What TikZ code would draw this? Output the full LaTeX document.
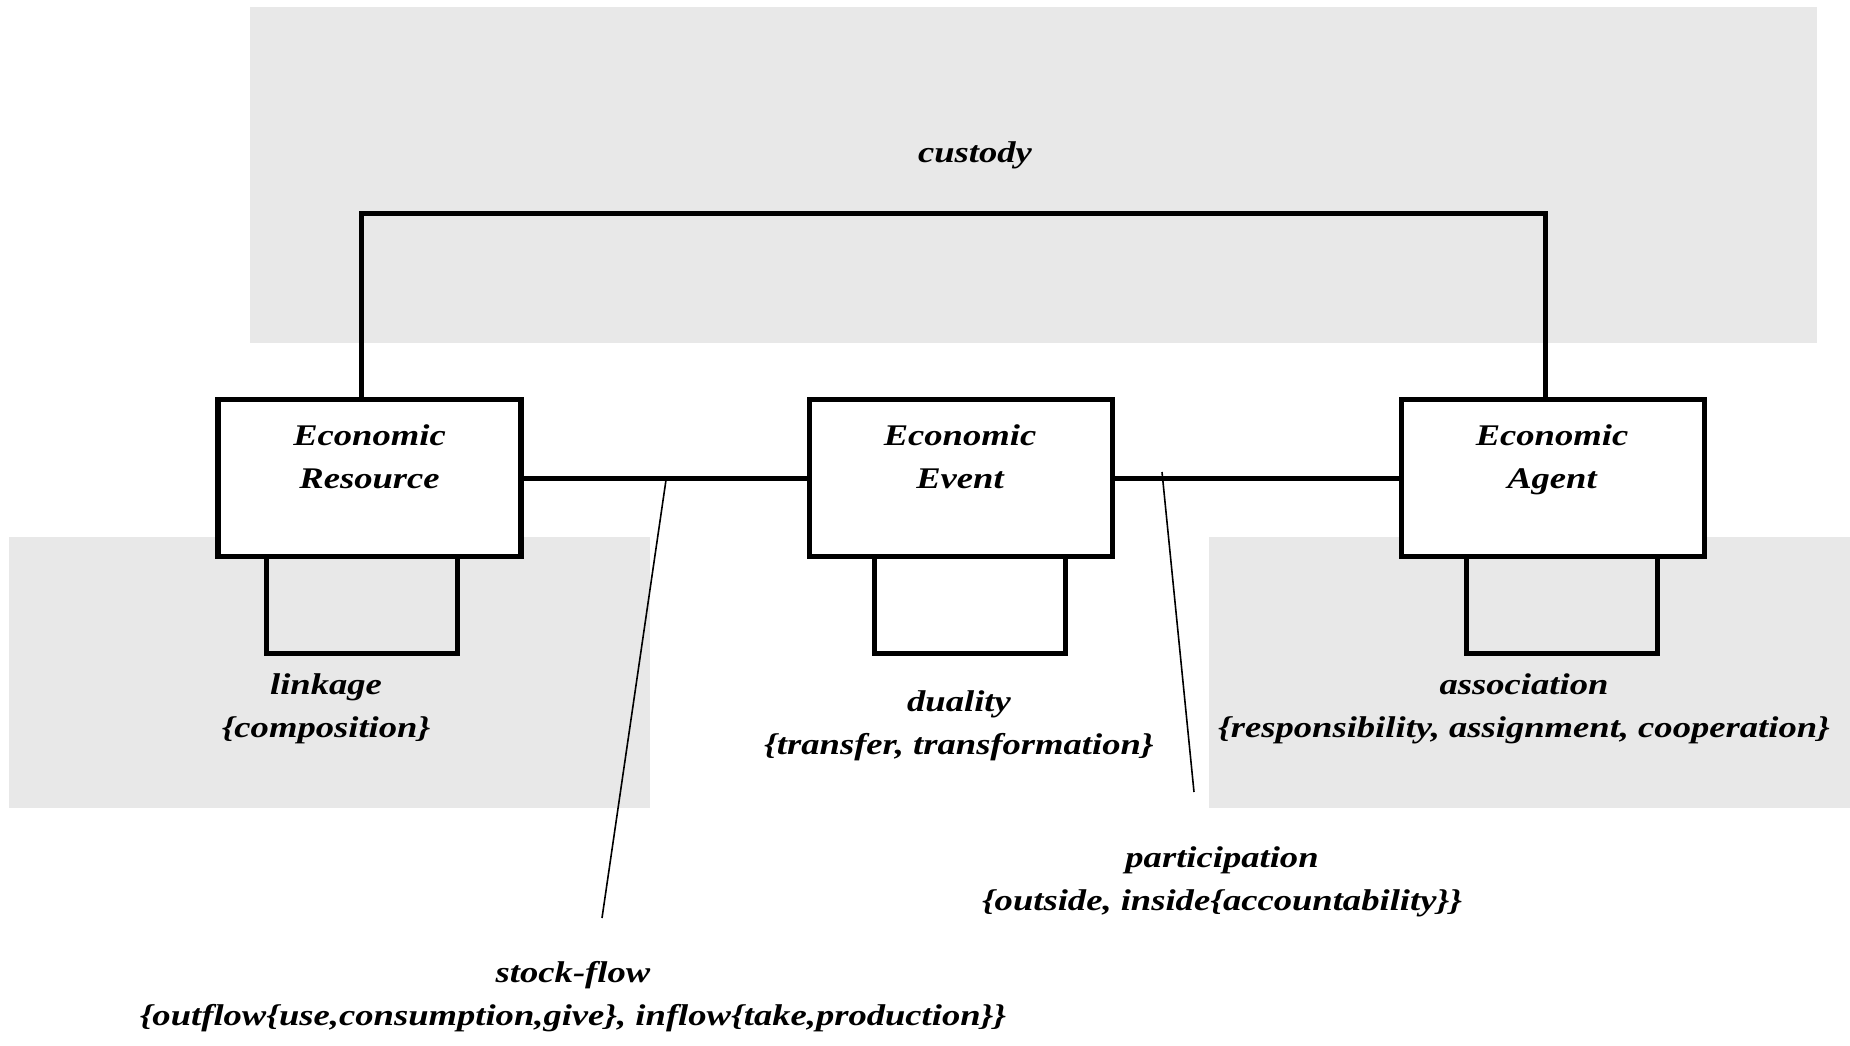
\documentclass[tikz,border=0pt]{standalone}
\usepackage{fontspec}
\newfontfamily\figfont{Liberation Serif}[FakeStretch=1.22]
\definecolor{panel}{RGB}{232,232,232}
\begin{document}
\begin{tikzpicture}[x=1pt,y=-1pt,
  panelbox/.style={fill=panel,draw=none},
  entity/.style={draw,line width=5.5pt,fill=white,minimum width=303pt,minimum height=157pt,inner sep=0pt},
  conn/.style={line width=5pt},
  leader/.style={line width=1.6pt},
  lbl/.style={font=\figfont\fontsize{30}{43}\selectfont\bfseries\itshape,align=center,inner sep=0pt,anchor=base}]
\useasboundingbox (0,0) rectangle (1850,1045);

% shaded groupings
\fill[panel] (250,7) rectangle (1817,343);
\fill[panel] (9,537) rectangle (650,808);
\fill[panel] (1209,537) rectangle (1850,808);

% entities
\node[entity] (res) at (369.5,478) {};
\node[entity] (evt) at (961,478) {};
\node[entity] (agt) at (1553,478) {};
\node[lbl] (resT) at (369.5,488) {Economic\\Resource};
\node[lbl] (evtT) at (960,488) {Economic\\Event};
\node[lbl] (agtT) at (1552,488) {Economic\\Agent};

% relationships between entities
\draw[conn] (res.east) -- (evt.west);
\draw[conn] (evt.east) -- (agt.west);
\draw[conn] ([xshift=-8.5pt]res.north) -- ++(0,-183) -| ([xshift=-8pt]agt.north);

% recursive relationships
\draw[conn] ([xshift=-103.5pt]res.south) -- ++(0,94) -| ([xshift=87.5pt]res.south);
\draw[conn] ([xshift=-87pt]evt.south) -- ++(0,94) -| ([xshift=104.5pt]evt.south);
\draw[conn] ([xshift=-86.5pt]agt.south) -- ++(0,94) -| ([xshift=104.5pt]agt.south);

% leader lines to the association labels
\coordinate (sfTop) at (666,480);
\coordinate (sfEnd) at (602,918);
\coordinate (paTop) at (1162,472);
\coordinate (paEnd) at (1194,792);
\draw[leader] (sfTop) -- (sfEnd);
\draw[leader] (paTop) -- (paEnd);

% labels
\node[lbl] (custody) at (975,162) {custody};
\node[lbl] (linkage) at (326,737) {linkage\\\{composition\}};
\node[lbl] (duality) at (959,754) {duality\\\{transfer, transformation\}};
\node[lbl] (assoc) at (1524,737) {association\\\{responsibility, assignment, cooperation\}};
\node[lbl] (partic) at (1222,910) {participation\\\{outside, inside\{accountability\}\}};
\node[lbl] (stock) at (573,1025) {stock-flow\\\{outflow\{use,consumption,give\}, inflow\{take,production\}\}};
\end{tikzpicture}
\end{document}
